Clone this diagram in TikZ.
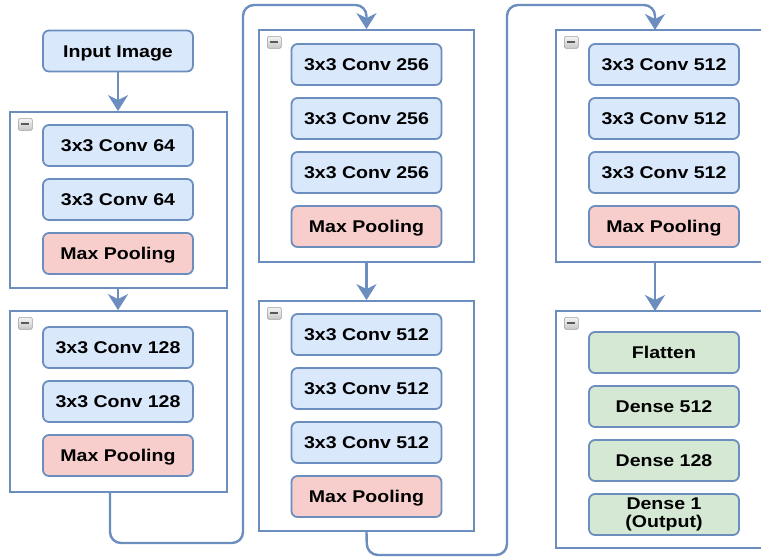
\documentclass[tikz,border=0pt]{standalone}
\usepackage{fontspec}
\setmainfont{Liberation Sans}[FakeStretch=1.15]
\usetikzlibrary{arrows.meta,shadings}
\definecolor{edge}{HTML}{6C8EBF}
\definecolor{bluefill}{HTML}{DAE8FC}
\definecolor{pinkfill}{HTML}{F8CECC}
\definecolor{greenfill}{HTML}{D5E8D4}
\tikzset{
  layer/.style={draw=edge, line width=1.8pt, rounded corners=6pt, minimum width=150pt, minimum height=41pt,
    font=\fontsize{17}{17}\selectfont\bfseries, align=center, inner sep=0pt, text height=12.4pt, text depth=0pt},
  conv/.style={layer, fill=bluefill},
  pool/.style={layer, fill=pinkfill},
  dense/.style={layer, fill=greenfill, font=\fontsize{17}{18.5}\selectfont\bfseries},
  group/.style={draw=edge, line width=1.8pt, inner sep=0pt},
  conn/.style={draw=edge, line width=2.4pt, rounded corners=11pt, -{Stealth[length=16pt,width=20pt,inset=5pt]}},
  minus/.style={draw=gray!75, line width=0.6pt, rounded corners=1.5pt, top color=gray!8, bottom color=gray!45,
    minimum width=14pt, minimum height=12pt, inner sep=0pt, anchor=north west,
    path picture={\draw[line width=2pt, black!65] ([xshift=3pt]path picture bounding box.west) -- ([xshift=-3pt]path picture bounding box.east);}}
}
\begin{document}
\begin{tikzpicture}[x=1pt,y=-1pt]
\useasboundingbox (0,0) rectangle (761,558);
\clip (0,0) rectangle (761,558);
% groups
\node[group, minimum width=217pt, minimum height=176pt] (g1) at (118.5,200) {};
\node[group, minimum width=217pt, minimum height=181pt] (g2) at (118.5,401.5) {};
\node[group, minimum width=215pt, minimum height=232pt] (g3) at (366.5,146) {};
\node[group, minimum width=215pt, minimum height=230pt] (g4) at (366.5,416) {};
\node[group, minimum width=234pt, minimum height=232pt] (g5) at (673,146) {};
\node[group, minimum width=234pt, minimum height=237pt] (g6) at (673,429.5) {};
% collapse icons
\node[minus] (m1) at ([shift={(9pt,-7pt)}]g1.north west) {};
\node[minus] (m2) at ([shift={(9pt,-7pt)}]g2.north west) {};
\node[minus] (m3) at ([shift={(9pt,-7pt)}]g3.north west) {};
\node[minus] (m4) at ([shift={(9pt,-7pt)}]g4.north west) {};
\node[minus] (m5) at ([shift={(9pt,-7pt)}]g5.north west) {};
\node[minus] (m6) at ([shift={(9pt,-7pt)}]g6.north west) {};
% input
\node[conv] (in) at (118,51) {Input Image};
% block 1
\node[conv] (a1) at (118,145.5) {3x3 Conv 64};
\node[conv] (a2) at (118,199.5) {3x3 Conv 64};
\node[pool] (a3) at (118,253.5) {Max Pooling};
% block 2
\node[conv] (b1) at (118,347.5) {3x3 Conv 128};
\node[conv] (b2) at (118,401.5) {3x3 Conv 128};
\node[pool] (b3) at (118,455.5) {Max Pooling};
% block 3
\node[conv] (c1) at (366.5,64.5) {3x3 Conv 256};
\node[conv] (c2) at (366.5,118.5) {3x3 Conv 256};
\node[conv] (c3) at (366.5,172.5) {3x3 Conv 256};
\node[pool] (c4) at (366.5,226.5) {Max Pooling};
% block 4
\node[conv] (d1) at (366.5,334.5) {3x3 Conv 512};
\node[conv] (d2) at (366.5,388.5) {3x3 Conv 512};
\node[conv] (d3) at (366.5,442.5) {3x3 Conv 512};
\node[pool] (d4) at (366.5,496.5) {Max Pooling};
% block 5
\node[conv] (e1) at (664,64.5) {3x3 Conv 512};
\node[conv] (e2) at (664,118.5) {3x3 Conv 512};
\node[conv] (e3) at (664,172.5) {3x3 Conv 512};
\node[pool] (e4) at (664,226.5) {Max Pooling};
% head
\node[dense] (f1) at (664,352.5) {Flatten};
\node[dense] (f2) at (664,406.5) {Dense 512};
\node[dense] (f3) at (664,460.5) {Dense 128};
\node[dense, text height=, text depth=] (f4) at (664,514.5) {Dense 1\\(Output)};
% connectors
\draw[conn] (in.south) -- (g1.north -| in.south);
\draw[conn] (g1.south -| in.south) -- (g2.north -| in.south);
\coordinate (p1) at (110,543);
\coordinate (p2) at (243,5);
\draw[conn] ([xshift=-8.5pt]g2.south) -- (p1) -| (p2) -| (g3.north);
\draw[conn] (g3.south) -- (g4.north);
\coordinate (q1) at (367,555);
\coordinate (q2) at (507,5);
\coordinate (q3) at (655,30);
\draw[conn] (g4.south) -- (q1) -| (q2) -| (q3);
\coordinate (r1) at (655,262);
\coordinate (r2) at (655,311);
\draw[conn] (r1) -- (r2);
\end{tikzpicture}
\end{document}
